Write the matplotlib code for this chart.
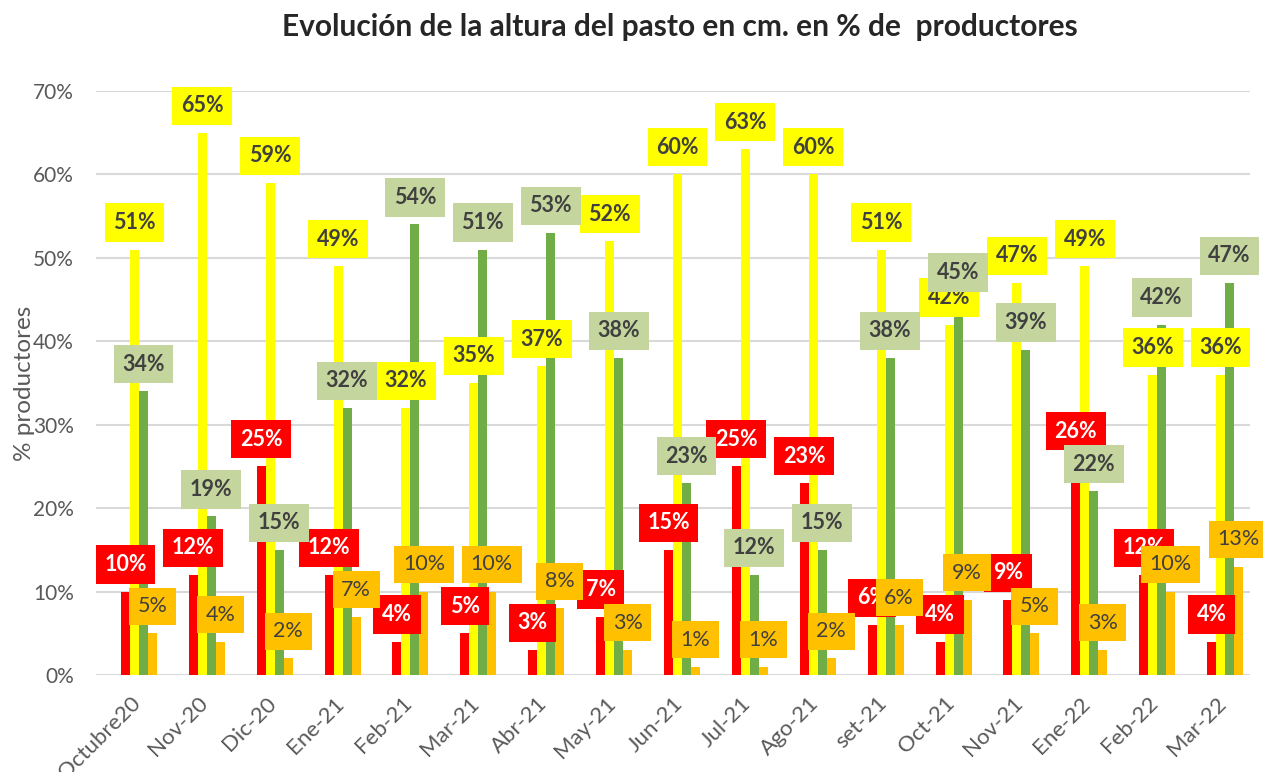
import matplotlib
matplotlib.use("Agg")
import matplotlib.pyplot as plt
import numpy as np

categories = ["Octubre20", "Nov-20", "Dic-20", "Ene-21", "Feb-21", "Mar-21", "Abr-21",
              "May-21", "Jun-21", "Jul-21", "Ago-21", "set-21", "Oct-21", "Nov-21",
              "Ene-22", "Feb-22", "Mar-22"]
rojo = [10, 12, 25, 12, 4, 5, 3, 7, 15, 25, 23, 6, 4, 9, 26, 12, 4]
amarillo = [51, 65, 59, 49, 32, 35, 37, 52, 60, 63, 60, 51, 42, 47, 49, 36, 36]
verde = [34, 19, 15, 32, 54, 51, 53, 38, 23, 12, 15, 38, 45, 39, 22, 42, 47]
naranja = [5, 4, 2, 7, 10, 10, 8, 3, 1, 1, 2, 6, 9, 5, 3, 10, 13]

plt.rcParams['font.family'] = ['Lato', 'DejaVu Sans']

fig = plt.figure(figsize=(12.63, 7.72), dpi=100)
ax = fig.add_axes([96/1263, 1-675/772, (1250-96)/1263, (675-91)/772])

x = np.arange(len(categories))
w = 0.1325
series = [
    (rojo, "#FF0000", -0.5, "#FF0000", "white", "bold"),
    (amarillo, "#FFFF00", 0.5, "#FFFF00", "#404040", "bold"),
    (verde, "#70AD47", 1.5, "#C4D69E", "#404040", "bold"),
    (naranja, "#FFC000", 2.5, "#FFC000", "#404040", "normal"),
]

for vals, col, off, bcol, tcol, fw in series:
    v = np.array(vals) / 100.0
    ax.bar(x + off * w, v, width=w, color=col, zorder=2)

z = 5
for vals, col, off, bcol, tcol, fw in series:
    v = np.array(vals) / 100.0
    for xi, vi, lab in zip(x, v, vals):
        ax.annotate(f"{lab}%", (xi + off * w, vi), xytext=(0, 19.5), textcoords="offset points",
                    ha="center", va="center", fontsize=15.5, fontweight=fw, color=tcol,
                    bbox=dict(boxstyle="square,pad=0.4", fc=bcol, ec="none"), zorder=z)
        z += 0.001
    z += 1

ax.set_ylim(0, 0.70)
ax.set_xlim(-0.5, len(categories) - 0.5)
ax.set_yticks(np.arange(0, 0.71, 0.10))
ax.set_yticklabels([f"{int(round(t*100))}%" for t in np.arange(0, 0.71, 0.10)],
                   fontsize=15, color="#595959")
ax.set_xticks(x)
ax.set_xticklabels(categories, rotation=45, ha="right", rotation_mode="anchor",
                   fontsize=16, color="#595959")
ax.tick_params(axis="y", length=0, pad=16)
ax.tick_params(axis="x", length=0, pad=13)
ax.grid(axis="y", color="#D9D9D9", linewidth=1.5, zorder=0)
ax.set_axisbelow(True)
for s in ax.spines.values():
    s.set_visible(False)
ax.set_ylabel("% productores", fontsize=17.5, color="#595959")
ax.yaxis.set_label_coords(-0.053, 0.5)

fig.text(680/1263, 1-27/772, "Evolución de la altura del pasto en cm. en % de  productores",
         ha="center", va="center", fontsize=21.5, fontweight="bold", color="#262626")

fig.savefig("out.png", dpi=100)
